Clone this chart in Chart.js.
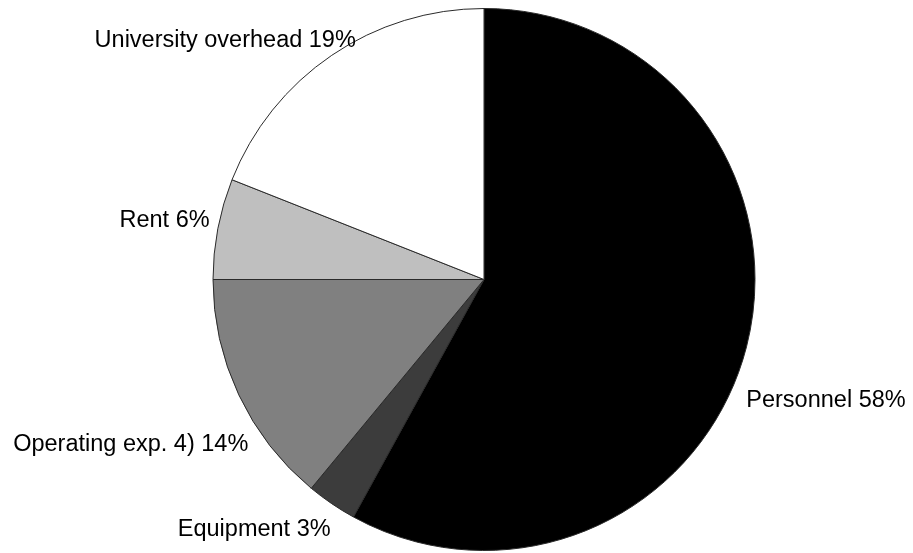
<!DOCTYPE html>
<html>
<head>
<meta charset="utf-8">
<title>Budget breakdown</title>
<script src="https://cdn.jsdelivr.net/npm/chart.js@4/dist/chart.umd.min.js"></script>
<style>
  html, body { margin: 0; padding: 0; background: #ffffff; }
  #wrap { width: 913px; height: 553px; }
</style>
</head>
<body>
<div id="wrap"><canvas id="pie"></canvas></div>
<script>
// budget shares, in percent, clockwise from 12 o'clock
const categories = ['Personnel', 'Equipment', 'Operating exp. 4)', 'Rent', 'University overhead'];
const shares = [58, 3, 14, 6, 19];

const sliceColors = ['#000000', '#3c3c3c', '#808080', '#bfbfbf', '#ffffff'];

// label nudge (px) from the 1.2 * radius point on each slice's mid angle
const labelShift = [[27, 40], [-47, -19], [-59, 27], [0, 2], [-76, 30]];

const pieLabels = {
    id: 'pieLabels',
    afterDatasetsDraw(chart) {
        const ctx = chart.ctx;
        const meta = chart.getDatasetMeta(0);
        ctx.save();
        ctx.font = '23.5px "Liberation Sans", Arial, sans-serif';
        ctx.fillStyle = '#000';
        ctx.textAlign = 'center';
        ctx.textBaseline = 'middle';
        meta.data.forEach((arc, i) => {
            const p = arc.getProps(['x', 'y', 'startAngle', 'endAngle', 'outerRadius'], true);
            const mid = (p.startAngle + p.endAngle) / 2;
            const r = p.outerRadius * 1.2;
            const x = p.x + Math.cos(mid) * r + labelShift[i][0];
            const y = p.y + Math.sin(mid) * r + labelShift[i][1];
            ctx.fillText(categories[i] + ' ' + shares[i] + '%', x, y);
        });
        ctx.restore();
    }
};

new Chart(document.getElementById('pie'), {
    type: 'pie',
    data: {
        labels: categories,
        datasets: [{
            data: shares,
            backgroundColor: sliceColors,
            borderColor: '#2a2a2a',
            borderWidth: 1
        }]
    },
    options: {
        responsive: true,
        maintainAspectRatio: false,
        animation: false,
        layout: {
            padding: { left: 212.5, right: 157.5, top: 8, bottom: 2 }
        },
        plugins: {
            legend: { display: false },
            tooltip: { enabled: false }
        }
    },
    plugins: [pieLabels]
});
</script>
</body>
</html>
